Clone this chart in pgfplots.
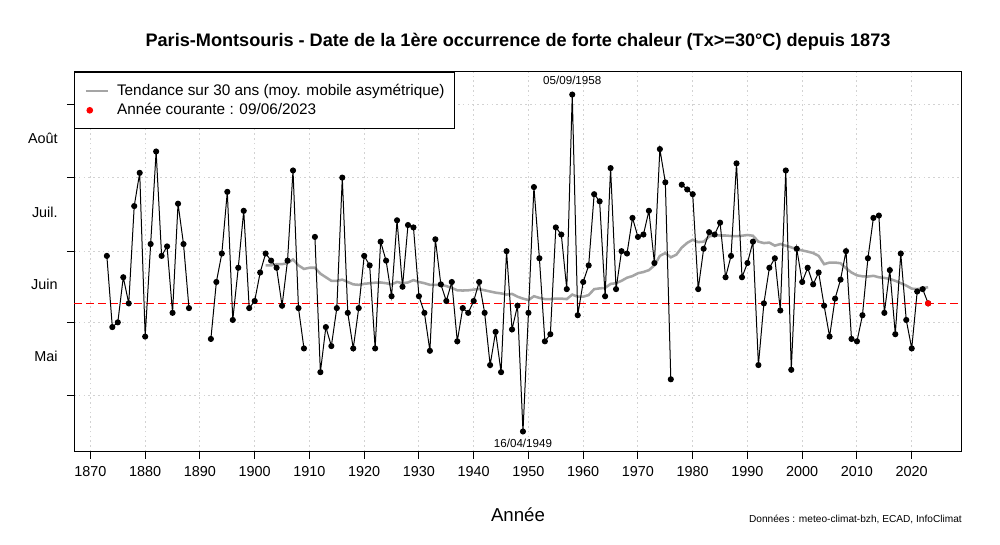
\documentclass[border=0pt]{standalone}
\usepackage{fontspec}
\setmainfont{Liberation Sans}
\usepackage{pgfplots}
\usepackage{pgfplotstable}
\pgfplotsset{compat=1.18}
\definecolor{trendgray}{RGB}{165,165,165}
\pgfplotsset{
  trendlegend/.style={legend image code/.code={\draw[##1] (0pt,0pt) -- (16.5pt,0pt);}},
  dotlegend/.style={legend image code/.code={\draw[##1] plot coordinates {(3pt,0pt)};}},
}

\pgfplotstableread{
year day
1873 180
1874 150
1875 152
1876 171
1877 160
1878 201
1879 215
1880 146
1881 185
1882 224
1883 180
1884 184
1885 156
1886 202
1887 185
1888 158
1889 nan
1892 145
1893 169
1894 181
1895 207
1896 153
1897 175
1898 199
1899 158
1900 161
1901 173
1902 181
1903 178
1904 175
1905 159
1906 178
1907 216
1908 158
1909 141
1910 nan
1911 188
1912 131
1913 150
1914 142
1915 158
1916 213
1917 156
1918 141
1919 158
1920 180
1921 176
1922 141
1923 186
1924 178
1925 163
1926 195
1927 167
1928 193
1929 192
1930 163
1931 156
1932 140
1933 187
1934 168
1935 161
1936 169
1937 144
1938 158
1939 156
1940 161
1941 169
1942 156
1943 134
1944 148
1945 131
1946 182
1947 149
1948 159
1949 106
1950 156
1951 209
1952 179
1953 144
1954 147
1955 192
1956 189
1957 166
1958 248
1959 155
1960 169
1961 176
1962 206
1963 203
1964 163
1965 217
1966 166
1967 182
1968 181
1969 196
1970 188
1971 189
1972 199
1973 177
1974 225
1975 211
1976 128
1977 nan
1978 210
1979 208
1980 206
1981 166
1982 183
1983 190
1984 189
1985 194
1986 171
1987 180
1988 219
1989 171
1990 177
1991 186
1992 134
1993 160
1994 175
1995 179
1996 157
1997 216
1998 132
1999 183
2000 169
2001 175
2002 168
2003 173
2004 159
2005 146
2006 162
2007 170
2008 182
2009 145
2010 144
2011 155
2012 179
2013 196
2014 197
2015 156
2016 174
2017 147
2018 181
2019 153
2020 141
2021 165
2022 166
2023 160
}\obsdata

\pgfplotstableread{
year day
1902 176
1903 176
1904 176.5
1905 176.5
1906 177
1907 178.5
1908 176
1909 174.5
1910 175
1911 175
1912 172.5
1913 171
1914 169.5
1915 169.5
1916 170
1917 169
1918 168
1919 167.8
1920 168.2
1921 168.5
1922 168.7
1923 168.8
1924 168.5
1925 168
1926 169
1927 168.5
1928 168.8
1929 169.8
1930 169
1931 168.5
1932 167.8
1933 167.8
1934 167.8
1935 167.3
1936 166.5
1937 165.5
1938 165.4
1939 165.5
1940 165.8
1941 166
1942 165.5
1943 165
1944 164.5
1945 164.2
1946 163.7
1947 164
1948 162.8
1949 162
1950 161.4
1951 163
1952 162.3
1953 161.8
1954 161.8
1955 162
1956 162
1957 161.8
1958 163.7
1959 162.8
1960 162.8
1961 163.5
1962 166
1963 166.3
1964 166.5
1965 168.2
1966 168.5
1967 169.5
1968 170.8
1969 171.5
1970 172.7
1971 173.2
1972 174
1973 176
1974 180
1975 181.2
1976 179.4
1977 180.5
1978 183.5
1979 185.5
1980 186.8
1981 185.8
1982 186
1983 188.2
1984 188.7
1985 188.6
1986 188.6
1987 188.4
1988 188.3
1989 188.5
1990 188.8
1991 188.5
1992 186
1993 185.4
1994 185.6
1995 184.3
1996 185
1997 184.3
1998 183.6
1999 182.8
2000 182.3
2001 181.8
2002 181.2
2003 180
2004 176.5
2005 177.2
2006 177.2
2007 176.9
2008 174.8
2009 173
2010 171.8
2011 171.4
2012 171.3
2013 171.6
2014 171
2015 170.7
2016 170.3
2017 169.5
2018 168.5
2019 167.5
2020 166.2
2021 166
2022 166.4
2023 166.8
}\trenddata

\begin{document}
\begin{tikzpicture}[x=1pt,y=1pt]
\useasboundingbox (0,0) rectangle (750,408.75);
\begin{axis}[
  at={(55.5pt,70pt)}, anchor=south west,
  scale only axis, width=665.25pt, height=284.75pt,
  xmin=1867, xmax=2029, ymin=97.5, ymax=257.5,
  axis line style={line width=0.75pt},
  xtick={1870,1880,...,2020},
  ytick={121,152,182,213,244}, yticklabels={},
  extra y ticks={137.8,168.2,198.5,229.7},
  extra y tick labels={Mai,Juin,Juil.,Août},
  extra y tick style={major tick length=0pt, grid=none, yticklabel style={xshift=-8.75pt}},
  tick align=outside, major tick length=5.25pt,
  xtick pos=lower, ytick pos=left,
  tick style={black, line width=0.75pt},
  grid=major, major grid style={gray!35, line width=0.75pt, dash pattern=on 1.2pt off 2.4pt},
  ticklabel style={font=\fontsize{10.8}{12}\selectfont},
  xticklabel style={yshift=-2pt},
  /pgf/number format/assume math mode=true,
  /pgf/number format/1000 sep={},
  unbounded coords=jump,
  clip=false,
  legend cell align=left,
  legend style={at={(0,1)}, anchor=north west, draw=black, line width=0.75pt, fill=white,
    font=\fontsize{11.5}{13}\selectfont, inner xsep=7.5pt, inner ysep=9pt,
    row sep=4.4pt, column sep=6pt, nodes={inner sep=0pt}, cells={anchor=west}},
]
\pgfplotsinvokeforeach{0,...,73}{
  \fill[red] (axis cs:1867,160) ++(#1*9pt,-0.5pt) rectangle ++(6pt,1pt);
}
\addplot[color=trendgray, line width=1.9pt, trendlegend] table[x=year,y=day] {\trenddata};
\addlegendentry{Tendance sur 30 ans (moy. mobile asymétrique)}
\addplot[black, line width=0.75pt, mark=*, mark size=1.9pt, forget plot] table[x=year,y=day] {\obsdata};
\addplot[only marks, red, mark=*, mark size=2.1pt, dotlegend] coordinates {(2023,160)};
\addlegendentry{Année courante : 09/06/2023}
\node[font=\fontsize{8.7}{10}\selectfont] at (axis cs:1958,248) [yshift=10.5pt] {05/09/1958};
\node[font=\fontsize{8.7}{10}\selectfont] at (axis cs:1949,106) [yshift=-9pt] {16/04/1949};
\end{axis}
\node[font=\bfseries\fontsize{13.6}{16}\selectfont] at (388.5,377.25) {Paris-Montsouris - Date de la 1ère occurrence de forte chaleur (Tx>=30°C) depuis 1873};
\node[font=\fontsize{14}{16}\selectfont] at (388.5,22.5) {Année};
\node[font=\fontsize{7.6}{9}\selectfont, anchor=east, inner sep=0pt] at (721.5,19.5) {Données : meteo-climat-bzh, ECAD, InfoClimat};
\end{tikzpicture}
\end{document}
